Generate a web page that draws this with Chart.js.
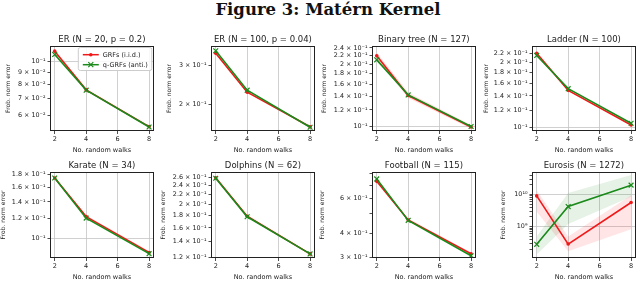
<!DOCTYPE html>
<html>
<head>
<meta charset="utf-8">
<script src="https://cdn.jsdelivr.net/npm/chart.js@4.4.0/dist/chart.umd.min.js"></script>
<style>
  body { margin: 0; background: #fff; width: 640px; height: 281px; position: relative; overflow: hidden; }
  canvas { position: absolute; }
  #fig { position: absolute; left: 8px; top: 0; width: 640px; text-align: center;
         font: bold 16.5px "DejaVu Serif", serif; color: #111; }
</style>
</head>
<body>
<div id="fig">Figure 3: Matérn Kernel</div>
<script>
var walks = [2, 4, 8];
var walkTicks = [2, 4, 6, 8];
var seriesNames = ["GRFs (i.i.d.)", "q-GRFs (anti.)"];
var panelTitles = ["ER (N = 20, p = 0.2)", "ER (N = 100, p = 0.04)", "Binary tree (N = 127)", "Ladder (N = 100)",
                   "Karate (N = 34)", "Dolphins (N = 62)", "Football (N = 115)", "Eurosis (N = 1272)"];

var grfIid = [
  [0.110, 0.0762, 0.0538],
  [0.342, 0.227, 0.158],
  [0.220, 0.141, 0.0993],
  [0.221, 0.1486, 0.1025],
  [0.1746, 0.1223, 0.0879],
  [0.259, 0.179, 0.1245],
  [0.731, 0.466, 0.3146],
  [9.0e9, 2.85e8, 5.6e9]
];
var qgrfAnti = [
  [0.1066, 0.0760, 0.0536],
  [0.351, 0.232, 0.157],
  [0.210, 0.142, 0.0998],
  [0.216, 0.1513, 0.1044],
  [0.1746, 0.1206, 0.0869],
  [0.258, 0.178, 0.1245],
  [0.752, 0.464, 0.3072],
  [2.8e8, 4.2e9, 1.95e10]
];

// spread bands (only the ones that show)
var binaryIidLow = [0.212, 0.137, 0.0972];
var binaryIidHigh = [0.228, 0.146, 0.1015];
var eurosisIidLow = [2.9e9, 1.7e8, 8.3e8];
var eurosisIidHigh = [1.35e10, 4.9e8, 9.5e9];
var eurosisAntiLow = [1.35e8, 1.2e9, 8.5e9];
var eurosisAntiHigh = [4.9e8, 1.1e10, 4.0e10];

var yTicks = [
  [0.06, 0.07, 0.08, 0.09, 0.1],
  [0.2, 0.3],
  [0.1, 0.12, 0.14, 0.16, 0.18, 0.2, 0.22, 0.24],
  [0.1, 0.12, 0.14, 0.16, 0.18, 0.2, 0.22],
  [0.1, 0.12, 0.14, 0.16, 0.18],
  [0.12, 0.14, 0.16, 0.18, 0.2, 0.22, 0.24, 0.26],
  [0.3, 0.4, 0.5, 0.6, 0.7, 0.8],
  [2e8, 3e8, 4e8, 5e8, 6e8, 7e8, 8e8, 9e8, 1e9, 2e9, 3e9, 4e9, 5e9, 6e9, 7e9, 8e9, 9e9, 1e10, 2e10, 3e10, 4e10]
];
var yTickLabels = [
  ["6 × 10⁻²", "7 × 10⁻²", "8 × 10⁻²", "9 × 10⁻²", "10⁻¹"],
  ["2 × 10⁻¹", "3 × 10⁻¹"],
  ["10⁻¹", "1.2 × 10⁻¹", "1.4 × 10⁻¹", "1.6 × 10⁻¹", "1.8 × 10⁻¹", "2 × 10⁻¹", "2.2 × 10⁻¹", "2.4 × 10⁻¹"],
  ["10⁻¹", "1.2 × 10⁻¹", "1.4 × 10⁻¹", "1.6 × 10⁻¹", "1.8 × 10⁻¹", "2 × 10⁻¹", "2.2 × 10⁻¹"],
  ["10⁻¹", "1.2 × 10⁻¹", "1.4 × 10⁻¹", "1.6 × 10⁻¹", "1.8 × 10⁻¹"],
  ["1.2 × 10⁻¹", "1.4 × 10⁻¹", "1.6 × 10⁻¹", "1.8 × 10⁻¹", "2 × 10⁻¹", "2.2 × 10⁻¹", "2.4 × 10⁻¹", "2.6 × 10⁻¹"],
  ["3 × 10⁻¹", "4 × 10⁻¹", "", "6 × 10⁻¹", "", ""],
  ["", "", "", "", "", "", "", "", "10⁹", "", "", "", "", "", "", "", "", "10¹⁰", "", "", ""]
];
var yMin = [0.0516, 0.151, 0.0949, 0.0961, 0.0835, 0.1197, 0.2993, 1.05e8];
var yMax = [0.1155, 0.369, 0.2451, 0.239, 0.1845, 0.274, 0.815, 5.0e10];

// layout of the plot boxes on the page
var boxLeft = [50, 211, 372, 532, 50, 211, 372, 532];
var boxTop = [46, 46, 46, 46, 172, 172, 172, 172];
var boxW = 106;
var boxH = [85, 85, 85, 85, 86, 86, 86, 86];
var yLabelX = [9, 170, 325, 487, 4, 164, 323, 504];

var RED = '#f01818', GREEN = '#1a8a1a';
var FONT = '"DejaVu Sans", sans-serif';

var framePlugin = {
  id: 'frame',
  afterDatasetsDraw: function (chart) {
    var a = chart.chartArea, c = chart.ctx;
    c.save();
    c.strokeStyle = '#222';
    c.lineWidth = 1;
    c.strokeRect(Math.round(a.left) + 0.5, Math.round(a.top) + 0.5,
                 Math.round(a.right - a.left) - 1, Math.round(a.bottom - a.top) - 1);
    c.restore();
  }
};

// title centred over the plot box, like matplotlib
var panelTitlePlugin = {
  id: 'panelTitle',
  afterDraw: function (chart) {
    var a = chart.chartArea, c = chart.ctx;
    c.save();
    c.fillStyle = '#222';
    c.font = '8.5px ' + FONT;
    c.textAlign = 'center';
    c.textBaseline = 'middle';
    c.fillText(chart.options.plugins.panelTitle.text, (a.left + a.right) / 2, a.top - 6);
    c.restore();
  }
};

var legendPlugin = {
  id: 'boxLegend',
  afterDraw: function (chart) {
    if (!chart.options.plugins.boxLegend.show) return;
    var a = chart.chartArea, c = chart.ctx;
    var x = a.right - 76, y = a.top + 1, w = 73.5, h = 23;
    c.save();
    c.fillStyle = 'rgba(255,255,255,0.85)';
    c.strokeStyle = '#cccccc';
    c.lineWidth = 1;
    c.beginPath();
    c.roundRect(x + 0.5, y + 0.5, w, h, 2);
    c.fill();
    c.stroke();
    var cols = [RED, GREEN];
    for (var k = 0; k < 2; k++) {
      var ly = y + 7.7 + k * 10;
      c.strokeStyle = cols[k];
      c.lineWidth = 1.5;
      c.beginPath();
      c.moveTo(x + 5, ly);
      c.lineTo(x + 21, ly);
      c.stroke();
      if (k === 0) {
        c.fillStyle = RED;
        c.beginPath();
        c.arc(x + 13, ly, 1.8, 0, Math.PI * 2);
        c.fill();
      } else {
        c.lineWidth = 1.2;
        c.beginPath();
        c.moveTo(x + 10.5, ly - 2.5); c.lineTo(x + 15.5, ly + 2.5);
        c.moveTo(x + 10.5, ly + 2.5); c.lineTo(x + 15.5, ly - 2.5);
        c.stroke();
      }
      c.fillStyle = '#222';
      c.font = '6.5px ' + FONT;
      c.textBaseline = 'middle';
      c.fillText(seriesNames[k], x + 25, ly + 0.5);
    }
    c.restore();
  }
};

function isDecade(v) {
  var l = Math.log10(v);
  return Math.abs(l - Math.round(l)) < 1e-9;
}

function pts(ys) {
  return walks.map(function (w, j) { return { x: w, y: ys[j] }; });
}

function bandSets(low, high, color) {
  return [
    { data: pts(high), borderWidth: 0, pointRadius: 0, fill: false, order: 2 },
    { data: pts(low), borderWidth: 0, pointRadius: 0, fill: '-1', backgroundColor: color, order: 2 }
  ];
}

function makePanel(i) {
  var cv = document.createElement('canvas');
  var cx = yLabelX[i] - 4;
  var cy = boxTop[i] - 11;
  var yAxisW = boxLeft[i] - cx;
  var cw = boxLeft[i] + boxW + 3 - cx;
  var ch = 11 + boxH[i] + 23;
  cv.width = cw; cv.height = ch;
  cv.style.left = cx + 'px';
  cv.style.top = cy + 'px';
  cv.style.width = cw + 'px';
  cv.style.height = ch + 'px';
  document.body.appendChild(cv);

  var sets = [];
  if (i === 2) sets = sets.concat(bandSets(binaryIidLow, binaryIidHigh, 'rgba(255,0,0,0.13)'));
  if (i === 7) {
    sets = sets.concat(bandSets(eurosisIidLow, eurosisIidHigh, 'rgba(255,0,0,0.10)'));
    sets = sets.concat(bandSets(eurosisAntiLow, eurosisAntiHigh, 'rgba(0,128,0,0.10)'));
  }
  sets.push({
    label: seriesNames[0], data: pts(grfIid[i]), borderColor: RED, backgroundColor: RED,
    borderWidth: 1.6, pointRadius: 1.8, pointBorderWidth: 0, pointStyle: 'circle', order: 1
  });
  sets.push({
    label: seriesNames[1], data: pts(qgrfAnti[i]), borderColor: GREEN, backgroundColor: GREEN,
    borderWidth: 1.6, pointRadius: 3.4, pointBorderWidth: 1.2, pointStyle: 'crossRot', order: 0
  });

  new Chart(cv.getContext('2d'), {
    type: 'line',
    data: { datasets: sets },
    options: {
      responsive: false,
      animation: false,
      devicePixelRatio: 1,
      layout: { padding: { left: 0, right: 3, top: 11, bottom: 0 } },
      plugins: {
        legend: { display: false },
        tooltip: { enabled: false },
        title: { display: false },
        panelTitle: { text: panelTitles[i] },
        boxLegend: { show: i === 0 }
      },
      scales: {
        x: {
          type: 'linear', min: 1.7, max: 8.3,
          afterBuildTicks: function (s) { s.ticks = walkTicks.map(function (v) { return { value: v }; }); },
          afterFit: function (s) { s.height = 23; },
          ticks: { font: { family: FONT, size: 6.5, weight: 'normal' }, color: '#222', padding: 1, maxRotation: 0, autoSkip: false },
          grid: { color: '#c4c4c4', lineWidth: 0.8, tickColor: '#222', tickLength: 3, drawTicks: true },
          border: { display: false },
          title: { display: true, text: 'No. random walks', color: '#222',
                   font: { family: FONT, size: 6.5, weight: 'normal' }, padding: 0 }
        },
        y: {
          type: 'logarithmic', min: yMin[i], max: yMax[i],
          afterBuildTicks: function (s) { s.ticks = yTicks[i].map(function (v) { return { value: v }; }); },
          afterFit: function (s) { s.width = yAxisW; },
          ticks: {
            font: { family: FONT, size: 6.4, weight: 'normal' }, color: '#222', padding: 2, autoSkip: false,
            callback: function (v) {
              var k = yTicks[i].findIndex(function (t) { return Math.abs(t - v) / t < 1e-6; });
              return k >= 0 ? yTickLabels[i][k] : '';
            }
          },
          grid: {
            color: function (ctx) { return ctx.tick && isDecade(ctx.tick.value) ? '#c4c4c4' : 'rgba(0,0,0,0)'; },
            lineWidth: 0.8, tickColor: '#222', tickLength: 2.5, drawTicks: true
          },
          border: { display: false },
          title: { display: true, text: 'Frob. norm error', color: '#222',
                   font: { family: FONT, size: 6, weight: 'normal' }, padding: 0 }
        }
      }
    },
    plugins: [framePlugin, panelTitlePlugin, legendPlugin]
  });
}

for (var i = 0; i < 8; i++) makePanel(i);
</script>
</body>
</html>
